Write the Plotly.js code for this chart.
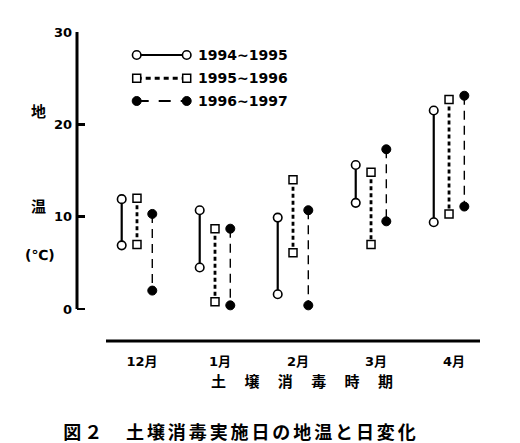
<!DOCTYPE html>
<html><head><meta charset="utf-8">
<script src="https://cdn.plot.ly/plotly-3.0.1.min.js"></script>
<style>html,body{margin:0;padding:0;background:#fff;}#chart{width:520px;height:443px;}</style>
</head><body><div id="chart"></div>
<script>
// ---- data ----
const months = ["12月", "1月", "2月", "3月", "4月"];
const seriesNames = ["1994~1995", "1995~1996", "1996~1997"];
const hi9495 = [11.9, 10.7, 9.9, 15.6, 21.5];
const lo9495 = [6.9, 4.5, 1.6, 11.5, 9.4];
const hi9596 = [12.0, 8.7, 14.0, 14.8, 22.7];
const lo9596 = [7.0, 0.8, 6.1, 7.0, 10.3];
const hi9697 = [10.3, 8.7, 10.7, 17.3, 23.1];
const lo9697 = [2.0, 0.4, 0.4, 9.5, 11.1];
const yTicks = [0, 10, 20, 30];

// ---- styles ----
const FONT = "DejaVu Sans, Noto Sans CJK JP, sans-serif";
const CJK = "Noto Sans CJK JP, sans-serif";
const styles = [
  {dash: "solid", width: 2.2, symbol: "circle", size: 8.5, mw: 1.6, fill: "#fff"},
  {dash: "4px,3px", width: 2.8, symbol: "square", size: 8, mw: 1.5, fill: "#fff"},
  {dash: "9px,6px", width: 1.4, symbol: "circle", size: 9, mw: 1, fill: "#000"}
];
const offsets = [-0.196, 0, 0.196];
const his = [hi9495, hi9596, hi9697];
const los = [lo9495, lo9596, lo9697];

const traces = [];
his.forEach((hi, s) => {
  const xs = [], ys = [];
  hi.forEach((h, i) => {
    xs.push(i + offsets[s], i + offsets[s], null);
    ys.push(h, los[s][i], null);
  });
  const st = styles[s];
  traces.push({
    x: xs, y: ys, type: "scatter", mode: "lines+markers", showlegend: false,
    line: {color: "#000", width: st.width, dash: st.dash},
    marker: {symbol: st.symbol, size: st.size, color: st.fill,
             line: {color: "#000", width: st.mw}},
    hoverinfo: "skip"
  });
});

// ---- hand-drawn legend on overlay axes (0..1 over the plot area) ----
const L = 77, T = 32, W = 403, H = 309;
const px = v => (v - L) / W, py = v => (T + H - v) / H;
const legY = [55, 78.3, 101];
const legDash = ["solid", "5px,4px", "12px,10px"];
const legWidth = [2.2, 3, 2];
const annotations = [];
seriesNames.forEach((name, s) => {
  const st = styles[s];
  traces.push({
    x: [px(136.7), px(186.7)], y: [py(legY[s]), py(legY[s])],
    xaxis: "x2", yaxis: "y2", type: "scatter", mode: "lines+markers", showlegend: false,
    line: {color: "#000", width: legWidth[s], dash: legDash[s]},
    marker: {symbol: st.symbol, size: st.size, color: st.fill,
             line: {color: "#000", width: st.mw}},
    hoverinfo: "skip"
  });
  annotations.push({xref: "paper", yref: "paper", x: px(196), y: py(legY[s]),
    xanchor: "left", yanchor: "middle", showarrow: false, text: name,
    font: {family: FONT, size: 14, weight: "bold", color: "#000"}});
});

const ann = (x, y, text, family, size) => ({
  xref: "paper", yref: "paper", x: px(x), y: py(y), xanchor: "center", yanchor: "middle",
  showarrow: false, text: text, font: {family: family, size: size, weight: "bold", color: "#000"}
});
annotations.push(
  ann(38, 110, "地", CJK, 15),
  ann(38, 205, "温", CJK, 15),
  ann(40, 255, "(℃)", FONT, 14),
  ann(302, 380, "土　 壌　 消　 毒　 時　 期", CJK, 15),
  ann(241, 431, "図２　土壌消毒実施日の地温と日変化", CJK, 18)
);

const layout = {
  width: 520, height: 443,
  margin: {l: L, r: 520 - L - W, t: T, b: 443 - T - H},
  paper_bgcolor: "#fff", plot_bgcolor: "#fff",
  showlegend: false,
  xaxis: {range: [-0.769, 4.397], tickvals: months.map((m, i) => i), ticktext: months,
          showgrid: false, zeroline: false, showline: false, ticks: "",
          ticklabelshift: 5, ticklabelstandoff: 11,
          tickfont: {family: FONT, size: 13, weight: "bold", color: "#000"}, fixedrange: true},
  yaxis: {range: [-3.46, 30], tickvals: yTicks, showgrid: false, zeroline: false,
          showline: false, ticks: "inside", ticklen: 8, tickwidth: 2.5, tickcolor: "#000",
          ticklabelstandoff: 4,
          tickfont: {family: FONT, size: 13, weight: "bold", color: "#000"}, fixedrange: true},
  xaxis2: {overlaying: "x", range: [0, 1], visible: false, fixedrange: true},
  yaxis2: {overlaying: "y", range: [0, 1], visible: false, fixedrange: true},
  shapes: [
    {type: "line", xref: "paper", yref: "y", x0: 0, x1: 0, y0: yTicks[0], y1: yTicks[yTicks.length - 1],
     line: {color: "#000", width: 3}},
    {type: "line", xref: "paper", yref: "paper", x0: px(106), x1: 1, y0: 0, y1: 0,
     line: {color: "#000", width: 3}}
  ],
  annotations: annotations
};

Plotly.newPlot("chart", traces, layout, {staticPlot: true, displayModeBar: false}).then(gd => {
  // widen the caption's character spacing like the printed figure
  gd.querySelectorAll(".annotation-text").forEach(t => {
    if (t.textContent.indexOf("図") === 0) t.style.letterSpacing = "2.9px";
  });
});
</script></body></html>
